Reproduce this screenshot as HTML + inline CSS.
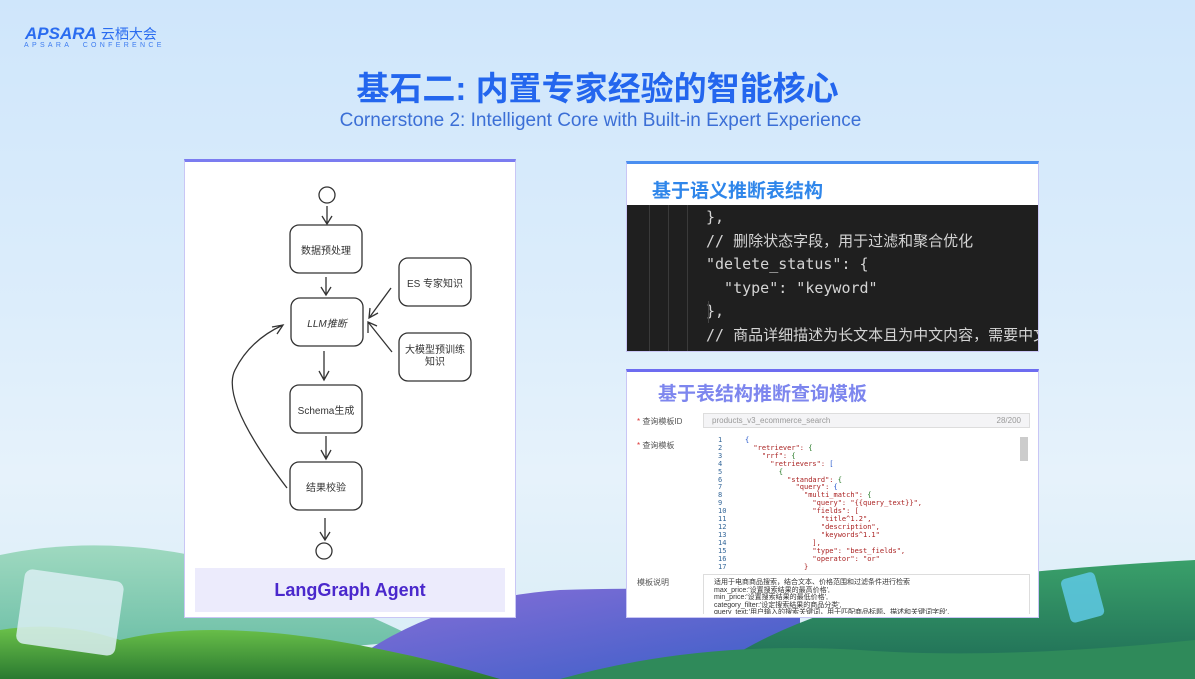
<!DOCTYPE html>
<html><head><meta charset="utf-8"><style>
*{margin:0;padding:0;box-sizing:border-box}
body{width:1195px;height:679px;overflow:hidden;position:relative;font-family:"Liberation Sans","Noto Sans CJK SC",sans-serif;background:linear-gradient(180deg,#cfe6fb 0%,#dcedfb 45%,#e6f2fb 70%,#d8ecf6 100%)}
.abs{position:absolute}
.mono{font-family:"DejaVu Sans Mono","Liberation Mono","Noto Sans CJK SC",monospace}
</style></head><body>
<svg class="abs" style="left:0;top:0" width="1195" height="679">
<defs>
<linearGradient id="h1" x1="0" y1="0" x2="0" y2="1"><stop offset="0" stop-color="#9fd9c0"/><stop offset="1" stop-color="#5fb8a0"/></linearGradient>
<linearGradient id="h2" x1="0" y1="0" x2="1" y2="1"><stop offset="0" stop-color="#8a6fd8"/><stop offset="1" stop-color="#3a5fc8"/></linearGradient>
<linearGradient id="h3" x1="0" y1="0" x2="0" y2="1"><stop offset="0" stop-color="#6cc24a"/><stop offset="1" stop-color="#2a7a30"/></linearGradient>
<linearGradient id="h4" x1="0" y1="0" x2="0" y2="1"><stop offset="0" stop-color="#3aa06a"/><stop offset="1" stop-color="#1d6a55"/></linearGradient>
</defs>
<path d="M0 555 Q120 530 250 570 Q340 600 420 640 L0 679Z" fill="url(#h1)"/>
<path d="M330 679 Q420 600 560 590 Q700 585 800 600 L800 679Z" fill="url(#h2)"/>
<path d="M700 679 Q800 600 1000 575 Q1100 565 1195 560 L1195 679Z" fill="url(#h4)"/>
<path d="M0 630 Q60 620 120 640 Q200 620 330 640 Q420 655 500 679 L0 679Z" fill="url(#h3)"/>
<path d="M560 679 Q700 640 860 650 Q1000 660 1195 640 L1195 679Z" fill="#2f8a5a"/>
<rect x="20" y="575" width="100" height="75" rx="8" fill="#dbeff2" opacity=".85" transform="rotate(8 70 612)"/>
<rect x="1065" y="575" width="35" height="45" rx="5" fill="#5ec9e5" opacity=".85" transform="rotate(-15 1082 597)"/>
</svg>
<div class="abs" style="left:25px;top:24px;font-size:17px;font-weight:bold;font-style:italic;color:#2a6cf0">APSARA <span style="font-style:normal;font-weight:normal;font-size:14px">云栖大会</span></div>
<div class="abs" style="left:24px;top:42px;font-size:7px;color:#3d7cf0;letter-spacing:3.3px">APSARA&nbsp;&nbsp;CONFERENCE</div>
<div class="abs" style="left:0;width:1195px;top:62px;text-align:center;font-size:33px;font-weight:bold;color:#2366ee">基石二: 内置专家经验的智能核心</div>
<div class="abs" style="left:0;width:1201px;top:110px;text-align:center;font-size:19px;color:#3b6fd6">Cornerstone 2: Intelligent Core with Built-in Expert Experience</div>
<div class="abs" style="left:184px;top:159px;width:332px;height:459px;background:#fff;border:1px solid #c9c6f5;border-top:3px solid #7b7cf0"></div>
<svg class="abs" style="left:0;top:0" width="1195" height="679" fill="none" stroke="#333" stroke-width="1.3">
<circle cx="327" cy="195" r="8"/>
<rect x="290" y="225" width="72" height="48" rx="9"/>
<rect x="291" y="298" width="72" height="48" rx="9"/>
<rect x="290" y="385" width="72" height="48" rx="9"/>
<rect x="290" y="462" width="72" height="48" rx="9"/>
<circle cx="324" cy="551" r="8"/>
<rect x="399" y="258" width="72" height="48" rx="9"/>
<rect x="399" y="333" width="72" height="48" rx="9"/>
<path d="M327 206 V224 M322 216 L327 224 L332 216"/>
<path d="M326 277 V295 M321 287 L326 295 L331 287"/>
<path d="M324 351 V380 M319 371 L324 380 L329 371"/>
<path d="M326 436 V459 M321 450 L326 459 L331 450"/>
<path d="M325 518 V540 M320 532 L325 540 L330 532"/>
<path d="M391 288 L369 318 M370 308 L369 318 L378 313"/>
<path d="M392 352 L368 322 M368 333 L368 322 L377 326"/>
<path d="M287 488 Q220 400 235 370 Q250 340 283 325 M272 327 L283 325 L277 334"/>
</svg>
<div class="abs" style="font-size:10px;color:#333;left:290px;width:72px;top:242px;text-align:center">数据预处理</div>
<div class="abs" style="font-size:10px;color:#333;left:291px;width:72px;top:315px;text-align:center;font-style:italic">LLM推断</div>
<div class="abs" style="font-size:10px;color:#333;left:290px;width:72px;top:402px;text-align:center">Schema生成</div>
<div class="abs" style="font-size:10px;color:#333;left:290px;width:72px;top:479px;text-align:center">结果校验</div>
<div class="abs" style="font-size:10px;color:#333;left:399px;width:72px;top:275px;text-align:center">ES 专家知识</div>
<div class="abs" style="font-size:10px;color:#333;left:399px;width:72px;top:345px;text-align:center;line-height:12px">大模型预训练<br>知识</div>
<div class="abs" style="left:195px;top:568px;width:310px;height:44px;background:#ecebfc;text-align:center;line-height:44px;font-size:18px;font-weight:bold;color:#4a28cc">LangGraph Agent</div>
<div class="abs" style="left:626px;top:161px;width:413px;height:191px;background:#fff;border:1px solid #c9c6f5;border-top:3px solid #4a8ef0"></div>
<div class="abs" style="left:652px;top:176px;font-size:19px;font-weight:bold;color:#2f86ea">基于语义推断表结构</div>
<div class="abs mono" style="left:627px;top:205px;width:411px;height:146px;background:#1f1f1f;overflow:hidden;color:#d4d4d4;font-size:15px;line-height:23.5px;padding:0 0 0 79px;white-space:nowrap">
<div class="abs" style="left:22px;top:0;width:1px;height:146px;background:#3a3a3a"></div>
<div class="abs" style="left:41px;top:0;width:1px;height:146px;background:#3a3a3a"></div>
<div class="abs" style="left:60px;top:0;width:1px;height:146px;background:#3a3a3a"></div>
<div class="abs" style="left:81px;top:96px;width:1px;height:22px;background:#444"></div>
<div style="margin-top:1px">},</div>
<div>// 删除状态字段，用于过滤和聚合优化</div>
<div>"delete_status": {</div>
<div>&nbsp;&nbsp;"type": "keyword"</div>
<div>},</div>
<div>// 商品详细描述为长文本且为中文内容，需要中文分词</div>
</div>
<div class="abs" style="left:626px;top:369px;width:413px;height:249px;background:#fff;border:1px solid #c9c6f5;border-top:3px solid #6d6cf0"></div>
<div class="abs" style="left:658px;top:379px;font-size:19px;font-weight:bold;color:#7d86ee">基于表结构推断查询模板</div>
<div class="abs" style="left:637px;top:416px;font-size:8px;color:#555"><span style="color:#d33">*</span> 查询模板ID</div>
<div class="abs" style="left:703px;top:413px;width:327px;height:15px;background:#f4f4f6;border:1px solid #ddd;font-size:8px;color:#999;padding:2px 8px" >products_v3_ecommerce_search<span style="float:right">28/200</span></div>
<div class="abs" style="left:637px;top:440px;font-size:8px;color:#555"><span style="color:#d33">*</span> 查询模板</div>
<div class="abs mono" style="left:718px;top:437px;font-size:7px;line-height:7.9px;color:#a22;white-space:pre"><span style="color:#369">1
2
3
4
5
6
7
8
9
10
11
12
13
14
15
16
17</span></div>
<div class="abs mono" style="left:745px;top:437px;font-size:7px;line-height:7.9px;color:#a22;white-space:pre"><span style="color:#25c">{</span>
  "retriever": <span style="color:#272">{</span>
    "rrf": <span style="color:#272">{</span>
      "retrievers": <span style="color:#25c">[</span>
        <span style="color:#272">{</span>
          "standard": <span style="color:#272">{</span>
            "query": <span style="color:#25c">{</span>
              "multi_match": <span style="color:#272">{</span>
                "query": "{{query_text}}",
                "fields": [
                  "title^1.2",
                  "description",
                  "keywords^1.1"
                ],
                "type": "best_fields",
                "operator": "or"
              }</div>
<div class="abs" style="left:1020px;top:437px;width:8px;height:24px;background:#ccc"></div>
<div class="abs" style="left:637px;top:577px;font-size:8px;color:#555">模板说明</div>
<div class="abs" style="left:703px;top:574px;width:327px;height:40px;border:1px solid #ddd;border-bottom:none;font-size:7px;line-height:7.5px;color:#333;padding:4px 10px;overflow:hidden;white-space:nowrap">适用于电商商品搜索，结合文本、价格范围和过滤条件进行检索<br>max_price:'设置搜索结果的最高价格',<br>min_price:'设置搜索结果的最低价格',<br>category_filter:'设定搜索结果的商品分类',<br>query_text:'用户输入的搜索关键词，用于匹配商品标题、描述和关键词字段',</div>
</body></html>
